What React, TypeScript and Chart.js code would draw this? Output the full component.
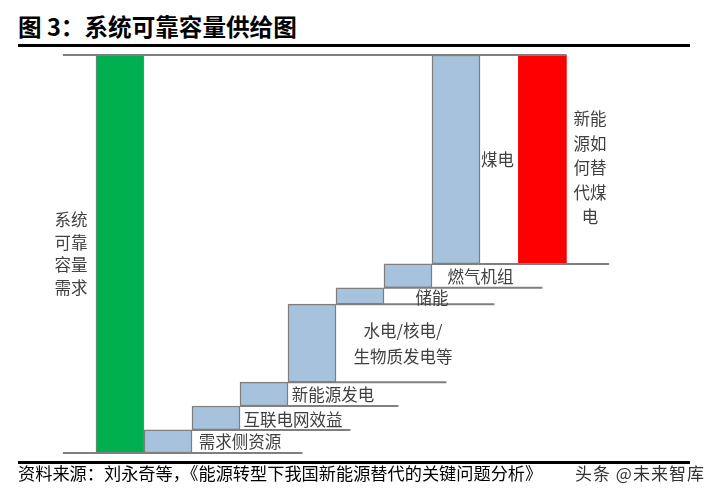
import React, { useEffect, useRef } from 'react';
import { Chart, registerables } from 'chart.js';

Chart.register(...registerables);

// ---- data ----
const categories = [
  '系统可靠容量需求',
  '需求侧资源',
  '互联电网效益',
  '新能源发电',
  '水电/核电/生物质发电等',
  '储能',
  '燃气机组',
  '煤电',
  '新能源如何替代煤电',
];
const labelTexts = [
  '系统\n可靠\n容量\n需求',
  '需求侧资源',
  '互联电网效益',
  '新能源发电',
  '水电/核电/\n生物质发电等',
  '储能',
  '燃气机组',
  '煤电',
  '新能\n源如\n何替\n代煤\n电',
];
const demandTotal = 100;
const supplyIncrements = [5.8, 6.0, 6.0, 19.6, 4.1, 6.0, 52.5];
const replacementValue = 52.5;

// ---- styles / layout ----
const GREEN = '#00B050';
const BLUE = '#A7C2DC';
const RED = '#FF0000';
const EDGE = '#7F7F7F';
const labelDx = [-73, 48, 53, 45, 67, 48, 48.5, 17.5, 23.6];
const labelDy = [-0.5, 0.5, 2, 1, 1, 2, 1, 0.5, 8.5];
const labelLineHeights = [22.5, 0, 0, 0, 26, 0, 0, 0, 24.5];
const RED_GAP = 1.8;
const LEFT_EXT = -1.19;

type Bar = { x: number; y: [number, number] };

function buildBars(): Bar[] {
  const bars: Bar[] = [{ x: 0, y: [0, demandTotal] }];
  let cum = 0;
  supplyIncrements.forEach((v, i) => {
    bars.push({ x: i + 1, y: [cum, cum + v] });
    cum += v;
  });
  bars.push({
    x: supplyIncrements.length + RED_GAP,
    y: [demandTotal - replacementValue, demandTotal],
  });
  return bars;
}

function buildLines(bars: Bar[]) {
  const lines: { x: number; y: number }[][] = [];
  for (let i = 1; i <= supplyIncrements.length; i++) {
    const b = bars[i];
    const start = i === 1 ? LEFT_EXT : b.x - 0.5;
    const end = b.x + 0.5 + (i === supplyIncrements.length ? 2.69 : 2.3);
    lines.push([
      { x: start, y: b.y[0] },
      { x: end, y: b.y[0] },
    ]);
  }
  const red = bars[bars.length - 1];
  lines.push([
    { x: LEFT_EXT, y: demandTotal },
    { x: red.x + 0.5, y: demandTotal },
  ]);
  return lines;
}

export default function App() {
  const ref = useRef<HTMLCanvasElement | null>(null);

  useEffect(() => {
    if (!ref.current) return;
    const bars = buildBars();
    const lines = buildLines(bars);

    const labelPlugin = {
      id: 'stepLabels',
      afterDatasetsDraw(chart: any) {
        const { ctx } = chart;
        const xs = chart.scales.x;
        const ys = chart.scales.y;
        ctx.save();
        ctx.font = '16.5px "Noto Sans CJK SC"';
        ctx.fillStyle = '#404040';
        ctx.textAlign = 'center';
        ctx.textBaseline = 'middle';
        labelTexts.forEach((t, i) => {
          const b = bars[i];
          const right = xs.getPixelForValue(b.x + 0.5);
          const mid = ys.getPixelForValue((b.y[0] + b.y[1]) / 2);
          const parts = t.split('\n');
          const cx = right + labelDx[i];
          const cy = mid + labelDy[i];
          parts.forEach((ln, k) => {
            ctx.fillText(ln, cx, cy + (k - (parts.length - 1) / 2) * labelLineHeights[i]);
          });
        });
        ctx.restore();
      },
    };

    const bg = bars.map((_, i) => (i === 0 ? GREEN : i === bars.length - 1 ? RED : BLUE));
    const bc = bars.map((_, i) => (i === bars.length - 1 ? RED : EDGE));
    const bw = bars.map((_, i) => (i === 0 ? 1 : i === bars.length - 1 ? 0 : 1.5));

    const chart = new Chart(ref.current, {
      type: 'bar',
      data: {
        datasets: [
          {
            type: 'bar',
            label: '容量',
            data: bars as any,
            backgroundColor: bg,
            borderColor: bc,
            borderWidth: bw,
            borderSkipped: false,
            barPercentage: 1,
            categoryPercentage: 1,
            order: 1,
          } as any,
          ...lines.map(
            (pts, i) =>
              ({
                type: 'line',
                label: 'level' + i,
                data: pts,
                borderColor: EDGE,
                borderWidth: 2,
                pointRadius: 0,
                fill: false,
                tension: 0,
                order: 0,
              }) as any
          ),
        ],
      },
      options: {
        responsive: false,
        animation: false,
        layout: { padding: 0 },
        plugins: {
          legend: { display: false },
          tooltip: { enabled: false },
          title: { display: false },
        },
        scales: {
          x: {
            type: 'linear',
            display: false,
            min: -2,
            max: 11,
            offset: false,
            ticks: { stepSize: 1 },
          },
          y: {
            type: 'linear',
            display: false,
            min: -2.01,
            max: 102.01,
          },
        },
      },
      plugins: [labelPlugin],
    });
    return () => chart.destroy();
  }, []);

  return (
    <div
      style={{
        position: 'fixed',
        left: 0,
        top: 0,
        width: 722,
        height: 499,
        background: '#fff',
        overflow: 'hidden',
        fontFamily: '"Noto Sans CJK SC", sans-serif',
      }}
    >
      <div
        style={{
          position: 'absolute',
          left: 18,
          top: 11,
          fontSize: 23.6,
          lineHeight: '30px',
          fontWeight: 700,
          color: '#000',
          whiteSpace: 'nowrap',
        }}
      >
        图 3：系统可靠容量供给图
      </div>
      <div style={{ position: 'absolute', left: 18, top: 44, width: 672, height: 3, background: '#000' }} />
      <canvas
        ref={ref}
        width={624}
        height={414}
        style={{ position: 'absolute', left: 24, top: 47, width: 624, height: 414 }}
      />
      <div style={{ position: 'absolute', left: 18, top: 461, width: 672, height: 2.5, background: '#000' }} />
      <div
        style={{
          position: 'absolute',
          left: 18,
          top: 463,
          fontSize: 17.2,
          lineHeight: '20px',
          color: '#000',
          whiteSpace: 'nowrap',
        }}
      >
        资料来源：刘永奇等，《能源转型下我国新能源替代的关键问题分析》
      </div>
      <div
        style={{
          position: 'absolute',
          left: 575,
          top: 462,
          fontSize: 17,
          lineHeight: '22px',
          letterSpacing: 1,
          color: '#333',
          whiteSpace: 'nowrap',
        }}
      >
        头条 @未来智库
      </div>
    </div>
  );
}
